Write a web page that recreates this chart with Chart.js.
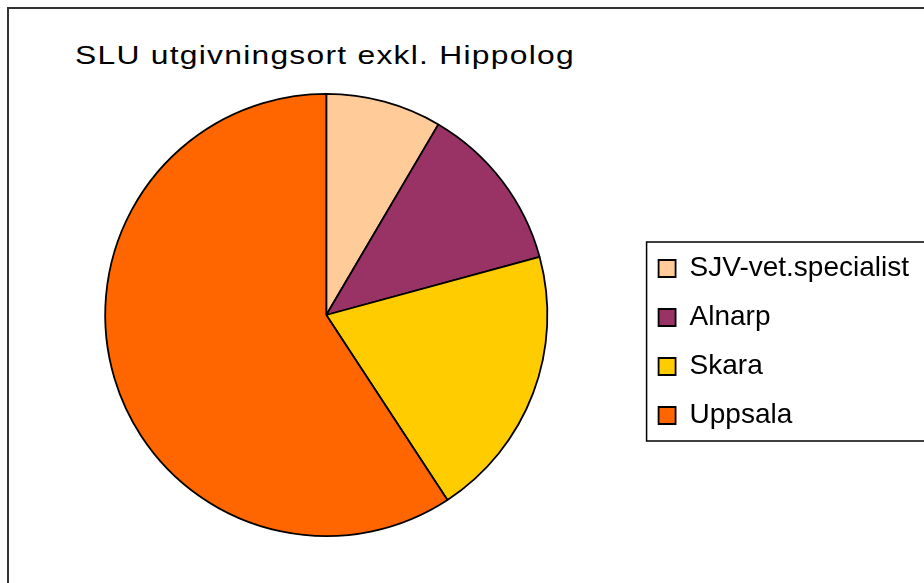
<!DOCTYPE html>
<html>
<head>
<meta charset="utf-8">
<script src="https://cdn.jsdelivr.net/npm/chart.js@4"></script>
<style>
  html, body { margin: 0; padding: 0; background: #fff; }
  body { width: 924px; height: 583px; overflow: hidden; position: relative; }
  #frame { position: absolute; left: 7px; top: 7px; width: 1000px; height: 1000px; border: 2px solid #333; box-sizing: border-box; }
  #title { position: absolute; left: 75px; top: 40px; font-family: 'Liberation Sans', Arial, sans-serif; font-size: 26.5px; letter-spacing: 1.05px; color: #000; white-space: nowrap; transform: scaleX(1.2); transform-origin: 0 0; }
  #wrap { position: absolute; left: 0; top: 0; width: 924px; height: 583px; }
</style>
</head>
<body>
<div id="frame"></div>
<div id="title">SLU utgivningsort exkl. Hippolog</div>
<div id="wrap"><canvas id="pie"></canvas></div>
<script>
// ── SLU publication place pie ──
const places = ['SJV-vet.specialist', 'Alnarp', 'Skara', 'Uppsala'];
const counts = [11, 16, 26, 77];
const sliceColors = ['#FFCC99', '#993366', '#FFCC00', '#FF6600'];

// legend sits a bit lower than the pie centre, boxed like the Excel original
const legendDrop = 27;
const legendFrame = {
  id: 'legendFrame',
  afterLayout(chart) {
    const lg = chart.legend;
    lg.top += legendDrop;
    lg.bottom += legendDrop;
  },
  afterDraw(chart) {
    const lg = chart.legend;
    const boxes = lg.legendHitBoxes;
    if (!boxes || !boxes.length) return;
    const first = boxes[0], last = boxes[boxes.length - 1];
    const ctx = chart.ctx;
    ctx.save();
    ctx.strokeStyle = '#000';
    ctx.lineWidth = 1.5;
    ctx.strokeRect(lg.left + 9, first.top - 12.5, chart.width, last.top + last.height - first.top + 24);
    ctx.restore();
  }
};

new Chart(document.getElementById('pie'), {
  type: 'pie',
  data: {
    labels: places,
    datasets: [{
      data: counts,
      backgroundColor: sliceColors,
      borderColor: '#000',
      borderWidth: 1.8
    }]
  },
  options: {
    responsive: true, maintainAspectRatio: false,
    animation: false,
    layout: { padding: { left: 15, right: 5, top: 93, bottom: 46 } },
    plugins: {
      tooltip: { enabled: false },
      legend: {
        position: 'right',
        labels: {
          boxWidth: 17, boxHeight: 17, padding: 21, color: '#000',
          font: { family: "'Liberation Sans', Arial, sans-serif", size: 28 }
        }
      }
    }
  },
  plugins: [legendFrame]
});
</script>
</body>
</html>
